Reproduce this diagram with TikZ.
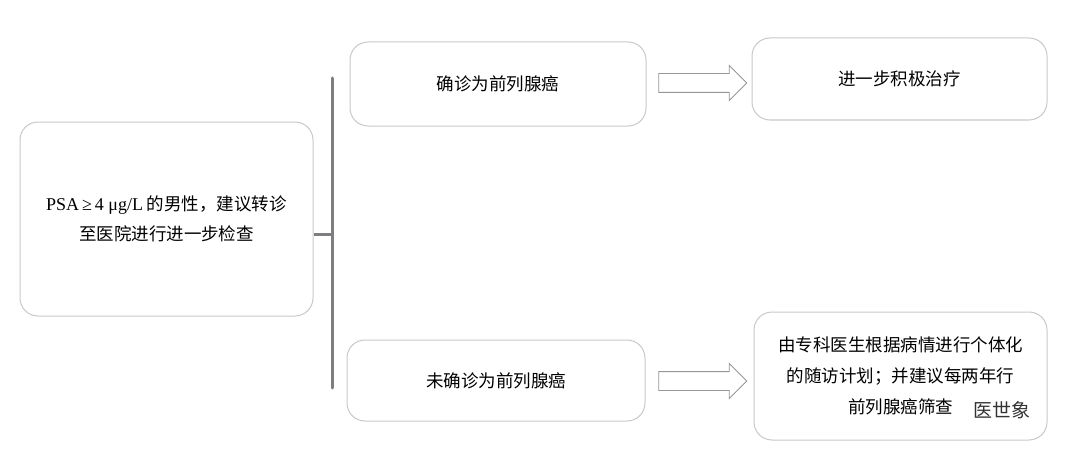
\documentclass[tikz,border=0pt]{standalone}
\usepackage{fontspec}
\setmainfont{Liberation Serif}
\newfontfamily\cjk{Noto Sans CJK SC}
\usetikzlibrary{shapes.arrows}
\definecolor{boxline}{RGB}{200,200,200}
\definecolor{bracket}{RGB}{125,125,130}
\tikzset{
  stepbox/.style={draw=boxline, line width=1pt, rounded corners=18pt, inner sep=0pt,
    font=\cjk\fontsize{17.5}{30}\selectfont, align=center},
  blockarrow/.style={draw=bracket!80, line width=0.9pt, single arrow, fill=white,
    single arrow head extend=8pt, minimum height=88pt, minimum width=34pt,
    inner xsep=0pt, inner ysep=9pt}
}
\begin{document}
\begin{tikzpicture}[x=1pt,y=-1pt]
\useasboundingbox (0,0) rectangle (1080,460);
% boxes
\node[stepbox, minimum width=293pt, minimum height=194pt] (psa) at (166.5,219)
  {{\rmfamily\fontsize{18}{30}\selectfont PSA\,≥\,4 μg/L} 的男性，建议转诊\\至医院进行进一步检查};
\node[stepbox, minimum width=296pt, minimum height=84pt] (yes) at (498,84) {确诊为前列腺癌};
\node[stepbox, minimum width=295pt, minimum height=82pt] (treat) at (899.5,79) {进一步积极治疗};
\node[stepbox, minimum width=298pt, minimum height=81pt] (no) at (496,380.5) {未确诊为前列腺癌};
\node[stepbox, minimum width=293pt, minimum height=128pt, font=\cjk\fontsize{17.5}{31}\selectfont] (plan) at (900.5,376)
  {由专科医生根据病情进行个体化\\的随访计划；并建议每两年行\\前列腺癌筛查\hspace{7em}};
% bracket
\coordinate (top) at (332,78);
\coordinate (bot) at (332,388);
\draw[bracket, line width=3pt, line cap=round] (top) -- (bot);
\draw[bracket, line width=3pt] (psa.east |- 0,234) -- (332,234);
% arrows
\node[blockarrow] (a1) at (698,83) {};
\node[blockarrow] (a2) at (698,381) {};
% watermark
\node[font=\cjk\fontsize{19}{20}\selectfont, text=black!80] (mark) at (1002,410) {医世象};
\end{tikzpicture}
\end{document}
